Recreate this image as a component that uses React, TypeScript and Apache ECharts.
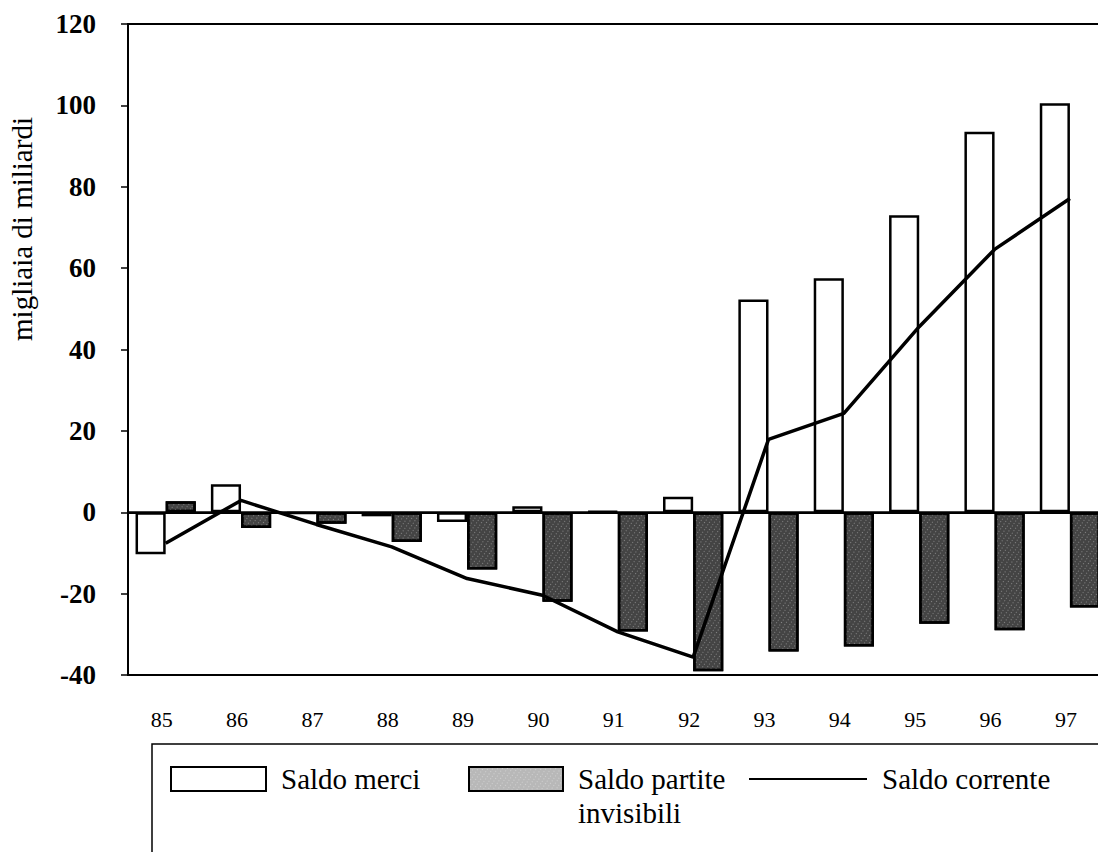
import React, { useEffect, useRef } from "react";
import * as echarts from "echarts";

const years = ["85", "86", "87", "88", "89", "90", "91", "92", "93", "94", "95", "96", "97"];
const saldoMerci = [-10.3, 6.9, -0.4, -1.0, -2.4, 1.5, 0.2, 3.8, 52.3, 57.5, 73, 93.5, 100.5];
const saldoInvisibili = [2.7, -3.9, -2.8, -7.3, -14.1, -22, -29.3, -39.1, -34.2, -33.0, -27.4, -29.0, -23.4];
const saldoCorrente = [-7.6, 2.9, -3.0, -8.5, -16.3, -20.4, -29.4, -35.6, 17.9, 24.3, 45.6, 64.6, 77.1];
const yTicks = { min: -40, max: 120, interval: 20 };

const FONT = "'Liberation Serif', 'DejaVu Serif', serif";

export default function App() {
  const ref = useRef<HTMLDivElement>(null);
  useEffect(() => {
    if (!ref.current) return;
    const chart = echarts.init(ref.current, null, { renderer: "svg" });
    const option: any = {
      animation: false,
      backgroundColor: "#fff",
      grid: {
        left: 128,
        top: 24,
        width: 979.6,
        height: 651,
        outerBoundsMode: "none",
        containLabel: false,
        show: true,
        borderColor: "#000",
        borderWidth: 2,
        backgroundColor: "transparent",
      },
      xAxis: {
        type: "category",
        data: years,
        axisLine: { show: true, lineStyle: { color: "#000", width: 2 } },
        axisTick: { show: false },
        axisLabel: {
          color: "#000",
          fontFamily: FONT,
          fontSize: 22,
          margin: 33,
          padding: [0, 8, 0, 0],
        },
        splitLine: { show: false },
      },
      yAxis: {
        type: "value",
        min: yTicks.min,
        max: yTicks.max,
        interval: yTicks.interval,
        axisLine: { show: true, lineStyle: { color: "#000", width: 2 } },
        axisTick: { show: true, inside: false, length: 7, lineStyle: { color: "#000", width: 1.5 } },
        axisLabel: {
          color: "#000",
          fontFamily: FONT,
          fontSize: 27,
          fontWeight: "bold",
          margin: 32,
        },
        splitLine: { show: false },
      },
      legend: [
        {
          data: ["Saldo merci"],
          left: 170,
          top: 762,
          icon: "rect",
          itemWidth: 95,
          itemHeight: 24,
          padding: 0,
          selectedMode: false,
          textStyle: { color: "#000", fontFamily: FONT, fontSize: 29, lineHeight: 34, padding: [0, 0, 0, 10] },
        },
        {
          data: [{ name: "Saldo partite invisibili", itemStyle: { color: "#b8b8b8" } }],
          left: 468,
          top: 728,
          icon: "rect",
          itemWidth: 94,
          itemHeight: 24,
          padding: 0,
          selectedMode: false,
          formatter: () => " \nSaldo partite\ninvisibili",
          textStyle: { color: "#000", fontFamily: FONT, fontSize: 29, lineHeight: 34, padding: [0, 0, 0, 10] },
        },
        {
          data: ["Saldo corrente"],
          left: 748,
          top: 762,
          itemWidth: 118,
          itemHeight: 4,
          padding: 0,
          selectedMode: false,
          itemStyle: { opacity: 0 },
          textStyle: { color: "#000", fontFamily: FONT, fontSize: 29, lineHeight: 34, padding: [0, 0, 0, 10] },
        },
      ],
      graphic: [
        {
          type: "rect",
          z: -1,
          shape: { x: 152, y: 744, width: 1000, height: 200 },
          style: { fill: "none", stroke: "#000", lineWidth: 1.5 },
        },
        {
          type: "text",
          x: 22,
          y: 229,
          rotation: Math.PI / 2,
          style: {
            text: "migliaia di miliardi",
            fontFamily: FONT,
            fontSize: 29,
            fill: "#000",
            textAlign: "center",
            textVerticalAlign: "middle",
          },
        },
      ],
      series: [
        {
          name: "Saldo merci",
          type: "bar",
          data: saldoMerci,
          barGap: "0%",
          barCategoryGap: "20%",
          itemStyle: { color: "#fff", borderColor: "#000", borderWidth: 2.5 },
          markLine: {
            silent: true,
            symbol: ["none", "none"],
            label: { show: false },
            lineStyle: { color: "#000", type: "solid", width: 2.5 },
            data: [{ yAxis: 0 }],
          },
          z: 2,
        },
        {
          name: "Saldo partite invisibili",
          type: "bar",
          data: saldoInvisibili,
          barGap: "0%",
          barCategoryGap: "20%",
          itemStyle: {
            color: "#444",
            borderColor: "#000",
            borderWidth: 2.5,
            decal: {
              symbol: "rect",
              symbolSize: 1,
              color: "rgba(255,255,255,0.35)",
              dashArrayX: [1, 3],
              dashArrayY: [1, 2],
              rotation: 0.6,
            },
          },
          z: 2,
        },
        {
          name: "Saldo corrente",
          type: "line",
          data: saldoCorrente,
          symbol: "none",
          lineStyle: { color: "#000", width: 3.5 },
          itemStyle: { color: "#000" },
          z: 5,
        },
      ],
    };
    chart.setOption(option);
    return () => chart.dispose();
  }, []);
  return (
    <div
      ref={ref}
      style={{ position: "fixed", left: 0, top: 0, width: 1098, height: 852, background: "#fff" }}
    />
  );
}
